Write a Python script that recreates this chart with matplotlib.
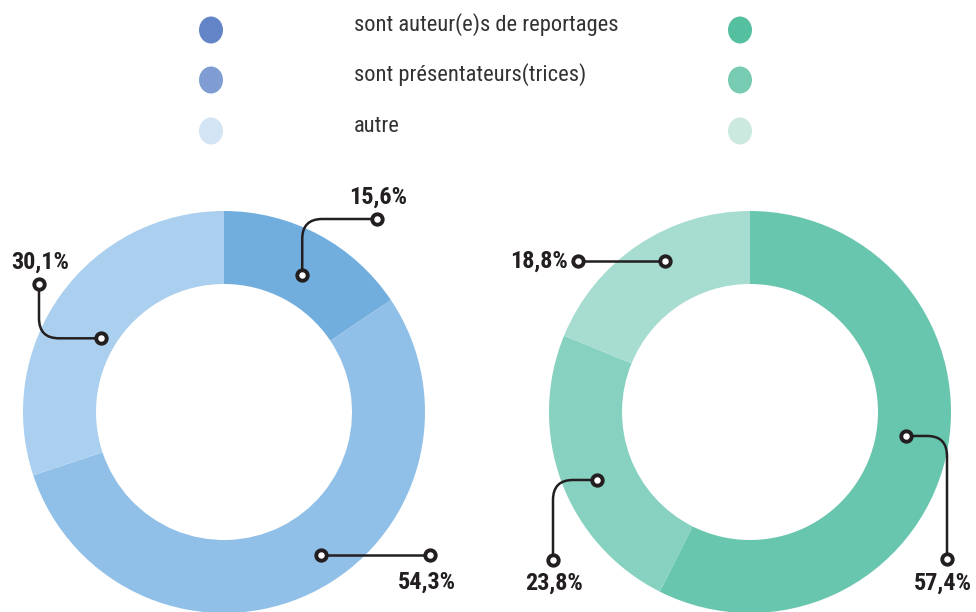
import numpy as np
import matplotlib
matplotlib.use("Agg")
import matplotlib.pyplot as plt
from matplotlib.path import Path
from matplotlib.patches import PathPatch, Ellipse

W, H = 976, 612

categories = ["sont auteur(e)s de reportages", "sont présentateurs(trices)", "autre"]
left_values = [15.6, 54.3, 30.1]
right_values = [57.4, 23.8, 18.8]
left_colors = ["#72aedd", "#90bfe7", "#abcfee"]
right_colors = ["#68c5ae", "#87d1c0", "#a6ddd0"]
left_legend_colors = ["#6384c6", "#7f9dd2", "#d3e4f4"]
right_legend_colors = ["#55c0a0", "#76cbb2", "#cce9df"]

INK = "#231f20"
LABEL_FONT = ["Roboto Condensed", "Roboto", "DejaVu Sans"]
LEGEND_FONT = ["Roboto Condensed", "Roboto", "DejaVu Sans"]

# leader layout per slice: angle nudge, anchor radius, route, end point, label position, ha
left_leaders = [
    (1.6, 158, "vh", (377, 219), (378, 197), "center"),
    (-8.0, 173, "h", (430, 555), (427, 582), "center"),
    (-4.8, 143, "hv", (39, 284), (40, 262), "center"),
]
right_leaders = [
    (-4.6, 158, "hv", (947, 559), (943, 583), "center"),
    (-3.5, 167, "hv", (553, 560), (554, 583), "center"),
    (4.4, 173, "h", (578, 261), (568, 261), "right"),
]


def fy(py):
    return H - py


def fmt(v):
    return f"{v:.1f}".replace(".", ",") + "%"


def leader(ax, a, e, route, rad=20):
    ax_, ay_ = a
    ex, ey = e
    if route == "h":
        verts = [(ax_, ay_), (ex, ay_)]
        codes = [Path.MOVETO, Path.LINETO]
    else:
        c = (ax_, ey) if route == "vh" else (ex, ay_)
        p = np.array(a, float)
        cc = np.array(c, float)
        q = np.array(e, float)
        d1 = (cc - p) / np.linalg.norm(cc - p)
        d2 = (q - cc) / np.linalg.norm(q - cc)
        verts = [tuple(p), tuple(cc - d1 * rad), tuple(cc), tuple(cc + d2 * rad), tuple(q)]
        codes = [Path.MOVETO, Path.LINETO, Path.CURVE3, Path.CURVE3, Path.LINETO]
    verts = [(x, fy(y)) for x, y in verts]
    ax.add_patch(PathPatch(Path(verts, codes), fill=False, ec=INK, lw=1.8,
                           capstyle="round", joinstyle="round", zorder=4))
    end_pts = [verts[0], verts[-1]]
    ax.plot([p[0] for p in end_pts], [p[1] for p in end_pts], "o", ms=7.5,
            mfc="white", mec=INK, mew=2.8, ls="none", zorder=5)


def donut(ax, values, colors, center, leaders):
    cx, cy = center
    R = 201
    ax.pie(values, colors=colors, startangle=90, counterclock=False,
           center=(cx, fy(cy)), radius=R,
           wedgeprops=dict(width=R - 128, linewidth=0))
    total = sum(values)
    start = 0.0
    for v, (nudge, r, route, end, lab, ha) in zip(values, leaders):
        mid = start + v / total * 360 / 2 + nudge
        start += v / total * 360
        t = np.deg2rad(mid)
        a = (cx + r * np.sin(t), cy - r * np.cos(t))
        leader(ax, a, end, route)
        ax.text(lab[0], fy(lab[1]), fmt(v), ha=ha, va="center", fontsize=17.5,
                fontweight="bold", color=INK, family=LABEL_FONT, zorder=6)


fig = plt.figure(figsize=(W / 100, H / 100), dpi=100)
ax = fig.add_axes([0, 0, 1, 1])

donut(ax, left_values, left_colors, (224, 412), left_leaders)
donut(ax, right_values, right_colors, (750, 412), right_leaders)

legend_y = [30, 80, 131]
for i, name in enumerate(categories):
    ax.add_patch(Ellipse((211, fy(legend_y[i])), 24, 27, color=left_legend_colors[i], lw=0))
    ax.add_patch(Ellipse((740, fy(legend_y[i])), 24, 27, color=right_legend_colors[i], lw=0))
    ax.text(354, fy(legend_y[i] - 5), name, ha="left", va="center", fontsize=16.2,
            color="#333333", family=LEGEND_FONT)

ax.set_xlim(0, W)
ax.set_ylim(0, H)
ax.set_aspect("equal")
ax.axis("off")

fig.savefig("out.png", dpi=100)
